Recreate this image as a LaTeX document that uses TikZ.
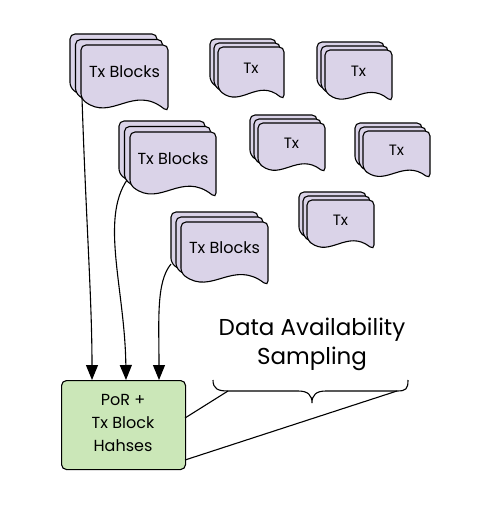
\documentclass[tikz,border=0pt]{standalone}
\usepackage{fontspec}
\setmainfont{Poppins}
\usetikzlibrary{arrows.meta}
\definecolor{docfill}{RGB}{218,211,232}
\definecolor{boxfill}{RGB}{203,231,184}
\tikzset{
  docstyle/.style={draw=black, fill=docfill, line width=1.1pt, rounded corners=5pt},
  boxstyle/.style={draw=black, fill=boxfill, line width=1.1pt, rounded corners=5pt},
  conn/.style={draw=black, line width=1.1pt},
  arr/.style={conn, -{Triangle[length=15pt,width=12pt]}},
}
\newcommand{\DocLayer}[4]{%
  \filldraw[docstyle] ({#1+#3},{#2+#4}) .. controls ({#1+0.6*#3},{#2+0.58*#4}) and ({#1+0.35*#3},{#2+1.15*#4}) .. ({#1},{#2+0.8*#4}) -- (#1,#2) -- ({#1+#3},#2) -- cycle;}
\newcommand{\MultiDoc}[8]{%
  \DocLayer{#2-2*#6}{#3-2*#6}{#4}{#5}%
  \DocLayer{#2-#6}{#3-#6}{#4}{#5}%
  \DocLayer{#2}{#3}{#4}{#5}%
  \node[font=\fontsize{#8}{#8}\selectfont, inner sep=0pt] (#1) at ({#2+#4/2},{#3+0.4*#5}) {#7};}
\begin{document}
\begin{tikzpicture}[x=1pt,y=-1pt]
\useasboundingbox (0,0) rectangle (481,521);
% Tx Blocks stacks
\MultiDoc{ba}{81}{45}{87}{67}{5.5}{Tx Blocks}{16}
\MultiDoc{bb}{130}{132}{86}{66}{5.5}{Tx Blocks}{16}
\MultiDoc{bc}{181}{222}{87}{64}{5}{Tx Blocks}{16}
% Tx stacks
\MultiDoc{t1}{218}{47}{66}{53}{4}{Tx}{15}
\MultiDoc{t2}{325}{50}{67}{52}{4}{Tx}{15}
\MultiDoc{t3}{258}{123}{67}{50}{4}{Tx}{15}
\MultiDoc{t4}{363}{131}{67}{48}{4}{Tx}{15}
\MultiDoc{t5}{307}{200}{67}{50}{4}{Tx}{15}
% green box
\node[boxstyle, minimum width=124pt, minimum height=89pt, anchor=north west, inner sep=0pt] (por) at (61,380) {};
\node[align=center, font=\fontsize{16}{23}\selectfont, inner sep=0pt] (portext) at (123,423) {PoR +\\Tx Block\\Hahses};
% arrows
\coordinate (s1) at (82,98);
\coordinate (s2) at (127,180);
\coordinate (s3) at (171,264);
\coordinate (e1) at (92,380);
\coordinate (e2) at (126,380);
\coordinate (e3) at (159,380);
\draw[arr] (s1) .. controls (86,220) and (92,300) .. (e1);
\draw[arr] (s2) .. controls (100,220) and (125,290) .. (e2);
\draw[arr] (s3) .. controls (156,282) and (159,320) .. (e3);
% label
\node[align=center, font=\fontsize{23}{29}\selectfont, inner sep=0pt] (das) at (312,344) {Data Availability\\Sampling};
% brace
\coordinate (bl) at (228,391);
\coordinate (br) at (397,391);
\coordinate (tip) at (312,403);
\draw[conn] (213,380) .. controls (213,389) and (218,391) .. (bl) -- (298,391) .. controls (308,391) and (312,395) .. (tip) .. controls (312,395) and (316,391) .. (326,391) -- (br) .. controls (406,391) and (408,389) .. (408,380);
\coordinate (p1) at (185,418);
\coordinate (p2) at (185,460);
\draw[conn] (p1) -- (bl);
\draw[conn] (p2) -- (br);
\end{tikzpicture}
\end{document}
